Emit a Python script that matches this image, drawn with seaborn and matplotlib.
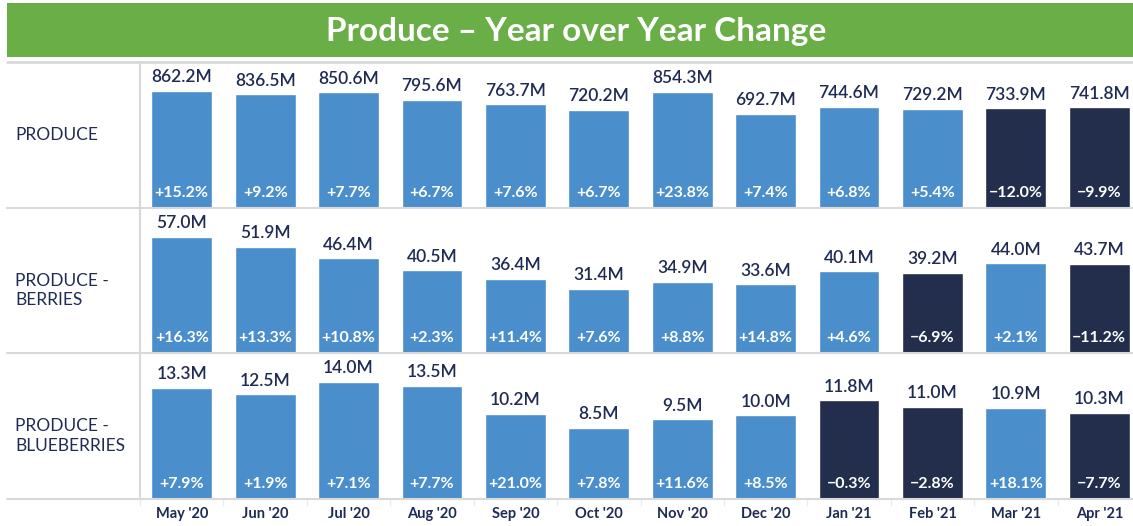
import matplotlib
matplotlib.use("Agg")
import matplotlib.pyplot as plt
import seaborn as sns
import pandas as pd
from matplotlib.patches import Rectangle
from matplotlib.lines import Line2D

months = ["May '20", "Jun '20", "Jul '20", "Aug '20", "Sep '20", "Oct '20",
          "Nov '20", "Dec '20", "Jan '21", "Feb '21", "Mar '21", "Apr '21"]
row_labels = ["PRODUCE", "PRODUCE -\nBERRIES", "PRODUCE -\nBLUEBERRIES"]

produce_vals = [862.2, 836.5, 850.6, 795.6, 763.7, 720.2, 854.3, 692.7, 744.6, 729.2, 733.9, 741.8]
produce_pct = [15.2, 9.2, 7.7, 6.7, 7.6, 6.7, 23.8, 7.4, 6.8, 5.4, -12.0, -9.9]
berries_vals = [57.0, 51.9, 46.4, 40.5, 36.4, 31.4, 34.9, 33.6, 40.1, 39.2, 44.0, 43.7]
berries_pct = [16.3, 13.3, 10.8, 2.3, 11.4, 7.6, 8.8, 14.8, 4.6, -6.9, 2.1, -11.2]
blue_vals = [13.3, 12.5, 14.0, 13.5, 10.2, 8.5, 9.5, 10.0, 11.8, 11.0, 10.9, 10.3]
blue_pct = [7.9, 1.9, 7.1, 7.7, 21.0, 7.8, 11.6, 8.5, -0.3, -2.8, 18.1, -7.7]

rows = [(produce_vals, produce_pct), (berries_vals, berries_pct), (blue_vals, blue_pct)]

LIGHT = "#4A8ECB"
DARK = "#222E4B"
NAVY = "#1F2B55"
GREEN = "#6AAE47"
GRID = "#D9D9D9"

sns.set_theme(style="white")
plt.rcParams['font.family'] = ['Lato', 'DejaVu Sans']

W, H = 1133, 526
fig = plt.figure(figsize=(W / 100, H / 100), dpi=100)

# title bar
fig.patches.append(Rectangle((7 / W, 1 - 57 / H), 1 - 7 / W, 54 / H, transform=fig.transFigure,
                             facecolor=GREEN, edgecolor="none", zorder=0))
fig.text(576 / W, 1 - 31 / H, "Produce – Year over Year Change", color="white",
         fontsize=24, fontweight="bold", ha="center", va="center")

row_tops = [62, 208, 353]
row_bots = [208, 353, 499]
label_shift = [0, 10, 10]
left_px = 140
axw_px = 1001

for r, ((vals, pct), lab) in enumerate(zip(rows, row_labels)):
    top, bot = row_tops[r], row_bots[r]
    ax = fig.add_axes([left_px / W, 1 - bot / H, axw_px / W, (bot - top) / H])
    df = pd.DataFrame({"month": months, "value": vals, "pct": pct})
    colors = [DARK if p < 0 else LIGHT for p in pct]
    sns.barplot(data=df, x="month", y="value", hue="month", palette=colors,
                legend=False, width=0.73, ax=ax, saturation=1)
    ax.set_ylim(0, max(vals) * 1.245)
    ax.set_xlim(-0.5, 11.5)
    for i, (v, p) in enumerate(zip(vals, pct)):
        ax.annotate(f"{v:.1f}M", xy=(i, v), xytext=(0, 4), textcoords="offset points",
                    ha="center", va="bottom", fontsize=12.5, color=NAVY, fontweight="semibold")
        sign = "+" if p >= 0 else "−"
        ax.annotate(f"{sign}{abs(p):.1f}%", xy=(i, 0), xytext=(0, 6), textcoords="offset points",
                    ha="center", va="bottom", fontsize=11.5, color="white", fontweight="bold")
    ax.set_xlabel("")
    ax.set_ylabel("")
    ax.set_yticks([])
    for s in ax.spines.values():
        s.set_visible(False)
    if r < 2:
        ax.set_xticks([])
    else:
        ax.set_xticks(range(len(months)))
        ax.set_xticklabels(months, fontsize=10.5, fontweight="bold", color=NAVY)
        ax.tick_params(axis="x", length=0, pad=6)
        # faint separators between columns below the last row
        for b in [k + 0.5 for k in range(-1, 11)]:
            ax.plot([b, b], [0, -0.04], transform=ax.get_xaxis_transform(),
                    color="#EBEBEB", linewidth=1, clip_on=False)
    fig.text(15 / W, 1 - ((top + bot) / 2 + label_shift[r]) / H, lab, fontsize=12.5, color=NAVY,
             ha="left", va="center", linespacing=1.3)

# separators
for y in [62, 208, 353, 499]:
    fig.lines.append(Line2D([7 / W, 1], [1 - y / H, 1 - y / H], transform=fig.transFigure,
                            color=GRID, linewidth=2 if y == 62 else 1.5, zorder=0))
fig.lines.append(Line2D([140 / W, 140 / W], [1 - 62 / H, 1 - 499 / H], transform=fig.transFigure,
                        color=GRID, linewidth=1.5, zorder=0))

fig.savefig("out.png", dpi=100)
